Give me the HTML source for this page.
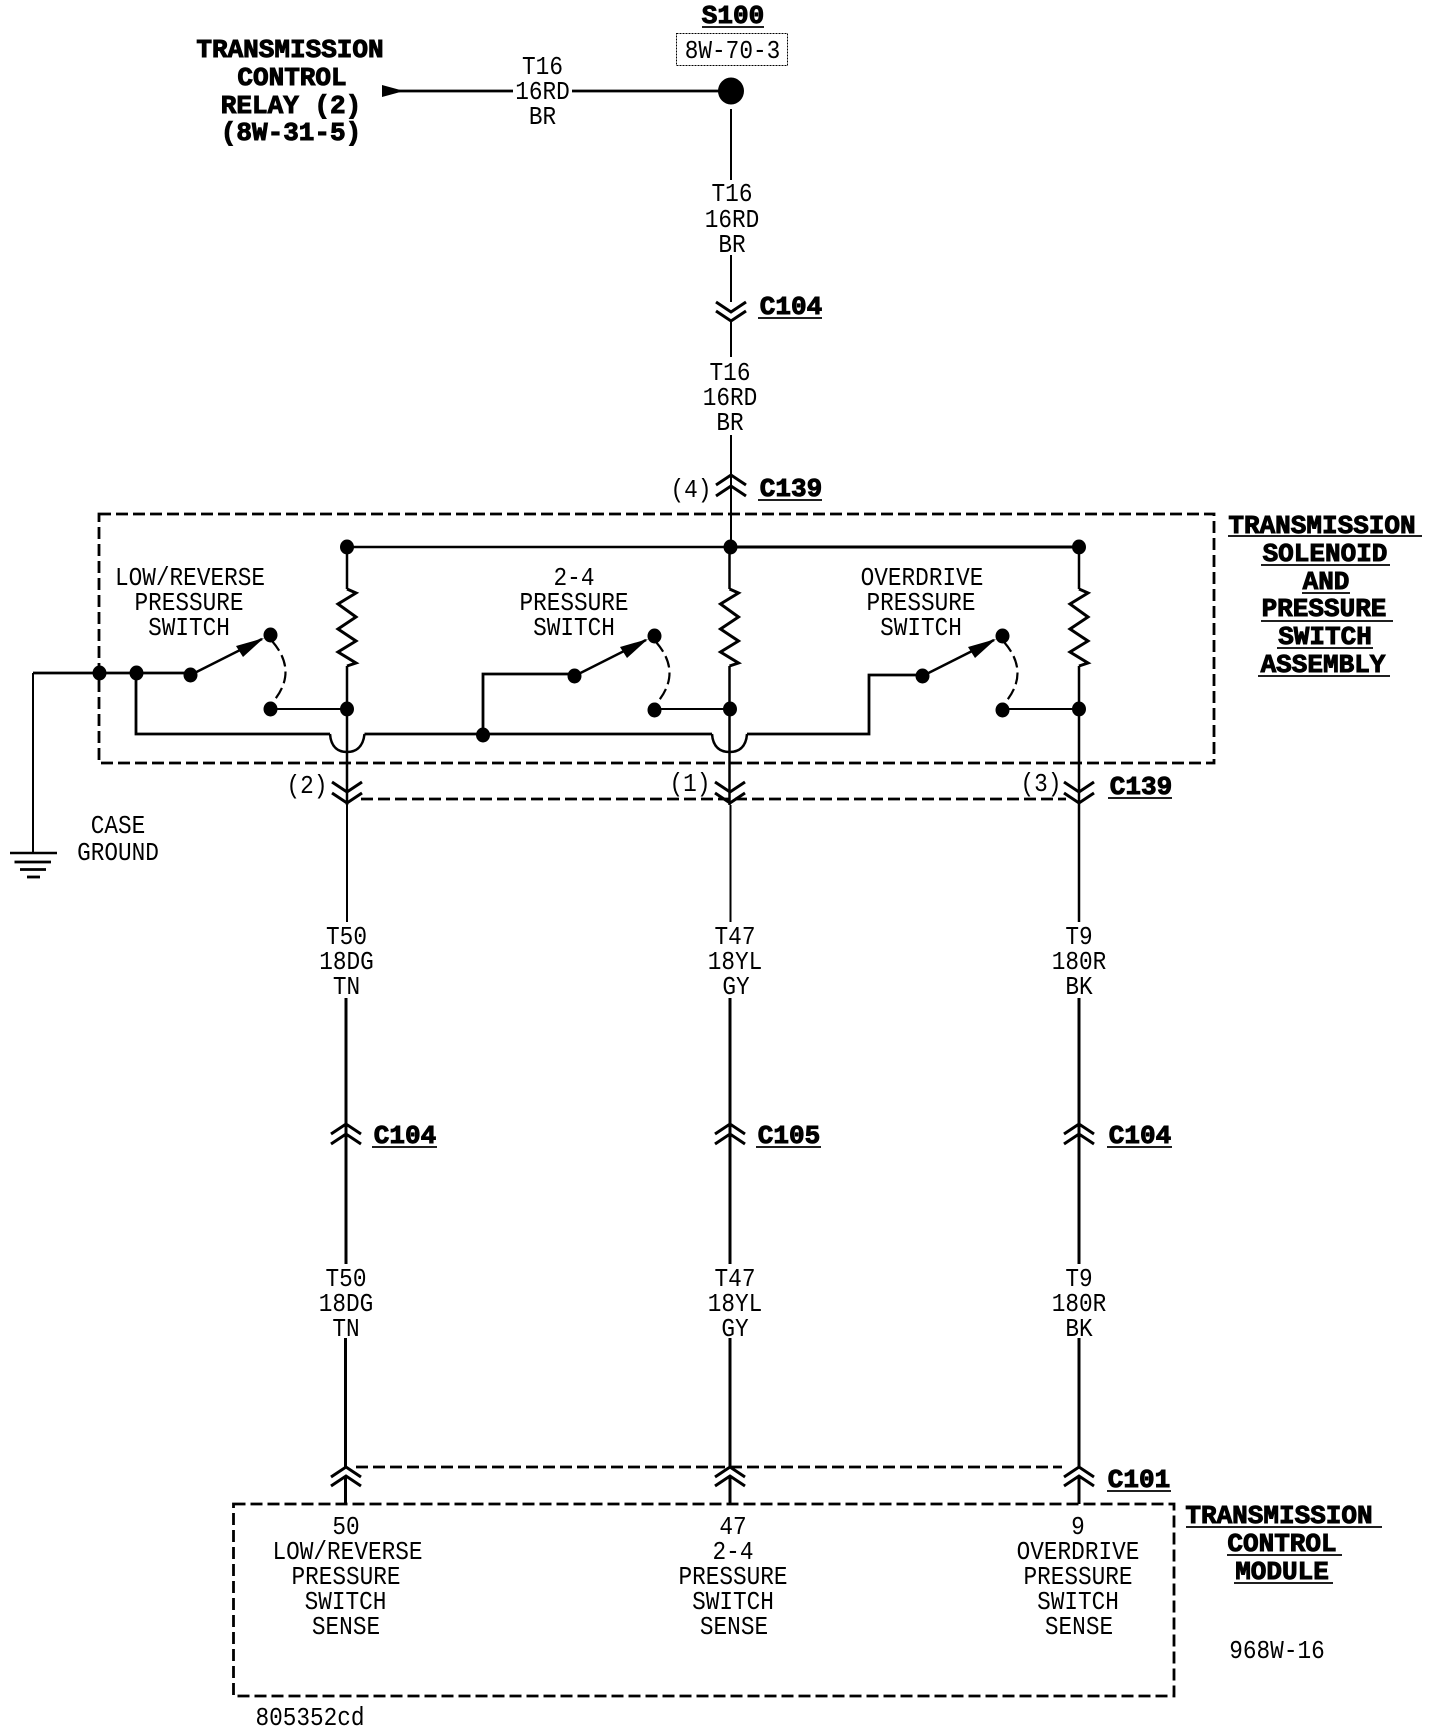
<!DOCTYPE html>
<html>
<head>
<meta charset="utf-8">
<style>
html,body{margin:0;padding:0;background:#fff}
svg{display:block}
.r{font-family:"Liberation Mono",monospace;font-size:26px;text-anchor:middle;fill:#000}
.b{font-family:"Liberation Mono",monospace;font-weight:bold;font-size:26px;text-anchor:middle;fill:#000;stroke:#000;stroke-width:1}
.w{stroke:#000;fill:none;stroke-width:2.5}
.c{stroke:#000;fill:none;stroke-width:3}
.t{stroke:#000;fill:none;stroke-width:2}
.h{stroke:#000;fill:none;stroke-width:2.8}
.d{stroke:#000;fill:none;stroke-width:2.8;stroke-dasharray:12 5}
.u{stroke:#000;fill:none;stroke-width:1.8}
</style>
</head>
<body>
<svg width="1440" height="1732" viewBox="0 0 1440 1732" xmlns="http://www.w3.org/2000/svg">
<defs>
<g id="sw">
<ellipse cx="190.5" cy="675" rx="7" ry="7.5"/><ellipse cx="270.5" cy="635" rx="7" ry="7.5"/><ellipse cx="270.5" cy="709" rx="7" ry="7.5"/>
<path class="w" d="M190.5 675L262 639"/>
<polygon points="264,638 243,657 236,646"/>
<path d="M272 641Q299 672 272 703" fill="none" stroke="#000" stroke-width="2.2" stroke-dasharray="12 5"/>
</g>
<polyline id="cd" class="c" points="-15,0 0,10 15,0"/>
<polyline id="cu" class="c" points="-15,10 0,0 15,10"/>
<path id="zz" class="c" d="M0 -77L9 -73L-9 -62L9 -49L-9 -37L9 -25L-9 -14L9 -3L0 0"/>
</defs>

<!-- top wiring -->
<polygon points="382,85 382,97 404,91"/>
<path class="h" d="M390 91H513M572 91H720"/>
<ellipse cx="731" cy="91" rx="13" ry="13.5"/>
<path class="t" d="M731 109V180M731 255V302M731 322V357M731 435V547"/>
<use href="#cd" x="731" y="302"/><use href="#cd" x="731" y="311"/>
<use href="#cu" x="731" y="475"/><use href="#cu" x="731" y="486"/>
<rect x="676.5" y="33.5" width="111" height="32" fill="none" stroke="#000" stroke-width="1" stroke-dasharray="2 1"/>

<!-- solenoid box -->
<rect class="d" x="99" y="514" width="1115" height="249"/>
<path class="w" d="M347 547H730"/>
<path class="c" d="M730 547H1079"/>
<ellipse cx="347" cy="547" rx="7" ry="7.5"/><ellipse cx="730.5" cy="547" rx="7" ry="7.5"/><ellipse cx="1079" cy="547" rx="7" ry="7.5"/>

<path class="w" d="M347 547V589M347 666V805"/>
<path class="w" d="M729.5 547V589M729.5 666V805"/>
<path class="w" d="M1079 547V589M1079 666V805"/>
<use href="#zz" x="347" y="666"/><use href="#zz" x="729.5" y="666"/><use href="#zz" x="1079" y="666"/>

<ellipse cx="347" cy="709" rx="7" ry="7.5"/><ellipse cx="730" cy="709" rx="7" ry="7.5"/><ellipse cx="1079" cy="709" rx="7" ry="7.5"/>
<path class="t" d="M270 709H347M654 709H730M1002 709H1079"/>

<use href="#sw"/>
<use href="#sw" x="384" y="1"/>
<use href="#sw" x="732" y="1"/>

<!-- ground + common wire -->
<path class="h" d="M33 673H190"/>
<path class="t" d="M33 673V853"/>
<ellipse cx="99.5" cy="673" rx="7" ry="7.5"/><ellipse cx="136.5" cy="673" rx="7" ry="7.5"/>
<path class="h" d="M136 673V734H330"/>
<path class="w" d="M330 734C331 748 339 752 347 752C355 752 363 748 364.5 734"/>
<path class="h" d="M364.5 734H712"/>
<path class="w" d="M712 734C713 748 721 752 729.5 752C738 752 746 748 747 734"/>
<path class="h" d="M747 734H869V675H923"/>
<ellipse cx="483" cy="735" rx="7" ry="7.5"/>
<path class="h" d="M483 735V674H575"/>
<path class="w" d="M10 853H57"/>
<path class="h" d="M14.5 862H51M20 869.5H46"/>
<path class="h" d="M27 877H40"/>

<!-- lower connectors -->
<g>
<use href="#cd" x="347" y="782"/><use href="#cd" x="347" y="793"/>
<use href="#cd" x="730" y="782"/><use href="#cd" x="730" y="793"/>
<use href="#cd" x="1079" y="782"/><use href="#cd" x="1079" y="793"/>
</g>
<path class="d" d="M361 799H1066"/>
<path class="t" d="M347 805V922M730.5 805V922"/>
<path class="w" d="M1079 805V922"/>
<path class="c" d="M346 998V1264M730 998V1264M1079 998V1264"/>
<path class="c" d="M345.5 1338V1467M730 1338V1467M1079 1338V1467"/>
<path class="c" d="M345.5 1477V1504M730 1477V1504M1079 1477V1504"/>
<use href="#cu" x="346" y="1124"/><use href="#cu" x="346" y="1134"/>
<use href="#cu" x="730" y="1124"/><use href="#cu" x="730" y="1134"/>
<use href="#cu" x="1079" y="1124"/><use href="#cu" x="1079" y="1134"/>
<use href="#cu" x="346" y="1467"/><use href="#cu" x="346" y="1476"/>
<use href="#cu" x="730" y="1467"/><use href="#cu" x="730" y="1476"/>
<use href="#cu" x="1079" y="1467"/><use href="#cu" x="1079" y="1476"/>
<path class="d" d="M356 1467H1062"/>
<rect class="d" x="233.5" y="1504" width="940.5" height="192"/>

<!-- bold labels -->
<g class="b">
<text class="b" x="733" y="23">S100</text>
<text class="b" x="290" y="57">TRANSMISSION</text>
<text class="b" x="292" y="85">CONTROL</text>
<text class="b" x="291" y="113">RELAY (2)</text>
<text class="b" x="291" y="140">(8W-31-5)</text>
<text class="b" x="791" y="314">C104</text>
<text class="b" x="791" y="496">C139</text>
<text class="b" x="1322" y="533">TRANSMISSION</text>
<text class="b" x="1325" y="561">SOLENOID</text>
<text class="b" x="1326" y="589">AND</text>
<text class="b" x="1324" y="616">PRESSURE</text>
<text class="b" x="1325" y="644">SWITCH</text>
<text class="b" x="1323" y="672">ASSEMBLY</text>
<text class="b" x="1141" y="794">C139</text>
<text class="b" x="405" y="1143">C104</text>
<text class="b" x="789" y="1143">C105</text>
<text class="b" x="1140" y="1143">C104</text>
<text class="b" x="1139" y="1487">C101</text>
<text class="b" x="1279" y="1523">TRANSMISSION</text>
<text class="b" x="1282" y="1551">CONTROL</text>
<text class="b" x="1282" y="1579">MODULE</text>
</g>
<path class="u" d="M702 27H764M758 318H822M758 500H822M1228 536H1422M1261 565H1390M1302 593H1350M1261 621H1393M1277 648H1373M1258 676H1390M1108 798H1172M372 1147H437M756 1147H821M1107 1147H1172M1107 1491H1171M1186 1527H1382M1227 1555H1342M1234 1583H1333"/>

<!-- regular labels -->
<g class="r">
<text class="r" transform="translate(732.5,58) scale(.875,1)">8W-70-3</text>
<text class="r" transform="translate(542.5,74) scale(.875,1)">T16</text>
<text class="r" transform="translate(542.5,99) scale(.875,1)">16RD</text>
<text class="r" transform="translate(542.5,124) scale(.875,1)">BR</text>
<text class="r" transform="translate(732,201) scale(.875,1)">T16</text>
<text class="r" transform="translate(732,227) scale(.875,1)">16RD</text>
<text class="r" transform="translate(732,252) scale(.875,1)">BR</text>
<text class="r" transform="translate(730,380) scale(.875,1)">T16</text>
<text class="r" transform="translate(730,405) scale(.875,1)">16RD</text>
<text class="r" transform="translate(730,430) scale(.875,1)">BR</text>
<text class="r" transform="translate(691,497) scale(.875,1)">(4)</text>

<text class="r" transform="translate(190,585) scale(.875,1)">LOW/REVERSE</text>
<text class="r" transform="translate(189,610) scale(.875,1)">PRESSURE</text>
<text class="r" transform="translate(189,635) scale(.875,1)">SWITCH</text>
<text class="r" transform="translate(574,585) scale(.875,1)">2-4</text>
<text class="r" transform="translate(574,610) scale(.875,1)">PRESSURE</text>
<text class="r" transform="translate(574,635) scale(.875,1)">SWITCH</text>
<text class="r" transform="translate(922,585) scale(.875,1)">OVERDRIVE</text>
<text class="r" transform="translate(921,610) scale(.875,1)">PRESSURE</text>
<text class="r" transform="translate(921,635) scale(.875,1)">SWITCH</text>

<text class="r" transform="translate(307,793) scale(.875,1)">(2)</text>
<text class="r" transform="translate(690,791) scale(.875,1)">(1)</text>
<text class="r" transform="translate(1041,791) scale(.875,1)">(3)</text>
<text class="r" transform="translate(118,833) scale(.875,1)">CASE</text>
<text class="r" transform="translate(118,860) scale(.875,1)">GROUND</text>

<text class="r" transform="translate(346.5,944) scale(.875,1)">T50</text>
<text class="r" transform="translate(346.5,969) scale(.875,1)">18DG</text>
<text class="r" transform="translate(346.5,994) scale(.875,1)">TN</text>
<text class="r" transform="translate(735,944) scale(.875,1)">T47</text>
<text class="r" transform="translate(735,969) scale(.875,1)">18YL</text>
<text class="r" transform="translate(736,994) scale(.875,1)">GY</text>
<text class="r" transform="translate(1079,944) scale(.875,1)">T9</text>
<text class="r" transform="translate(1079,969) scale(.875,1)">180R</text>
<text class="r" transform="translate(1079,994) scale(.875,1)">BK</text>

<text class="r" transform="translate(346,1286) scale(.875,1)">T50</text>
<text class="r" transform="translate(346,1311) scale(.875,1)">18DG</text>
<text class="r" transform="translate(346,1336) scale(.875,1)">TN</text>
<text class="r" transform="translate(735,1286) scale(.875,1)">T47</text>
<text class="r" transform="translate(735,1311) scale(.875,1)">18YL</text>
<text class="r" transform="translate(735,1336) scale(.875,1)">GY</text>
<text class="r" transform="translate(1079,1286) scale(.875,1)">T9</text>
<text class="r" transform="translate(1079,1311) scale(.875,1)">180R</text>
<text class="r" transform="translate(1079,1336) scale(.875,1)">BK</text>

<text class="r" transform="translate(346,1534) scale(.875,1)">50</text>
<text class="r" transform="translate(347.5,1559) scale(.875,1)">LOW/REVERSE</text>
<text class="r" transform="translate(346,1584) scale(.875,1)">PRESSURE</text>
<text class="r" transform="translate(345.5,1609) scale(.875,1)">SWITCH</text>
<text class="r" transform="translate(346,1634) scale(.875,1)">SENSE</text>
<text class="r" transform="translate(733,1534) scale(.875,1)">47</text>
<text class="r" transform="translate(733,1559) scale(.875,1)">2-4</text>
<text class="r" transform="translate(733,1584) scale(.875,1)">PRESSURE</text>
<text class="r" transform="translate(733,1609) scale(.875,1)">SWITCH</text>
<text class="r" transform="translate(734,1634) scale(.875,1)">SENSE</text>
<text class="r" transform="translate(1078,1534) scale(.875,1)">9</text>
<text class="r" transform="translate(1078,1559) scale(.875,1)">OVERDRIVE</text>
<text class="r" transform="translate(1078,1584) scale(.875,1)">PRESSURE</text>
<text class="r" transform="translate(1078,1609) scale(.875,1)">SWITCH</text>
<text class="r" transform="translate(1079,1634) scale(.875,1)">SENSE</text>
<text class="r" transform="translate(1277,1658) scale(.875,1)">968W-16</text>
<text class="r" transform="translate(310,1725) scale(.875,1)">805352cd</text>
</g>
</svg>
</body>
</html>
